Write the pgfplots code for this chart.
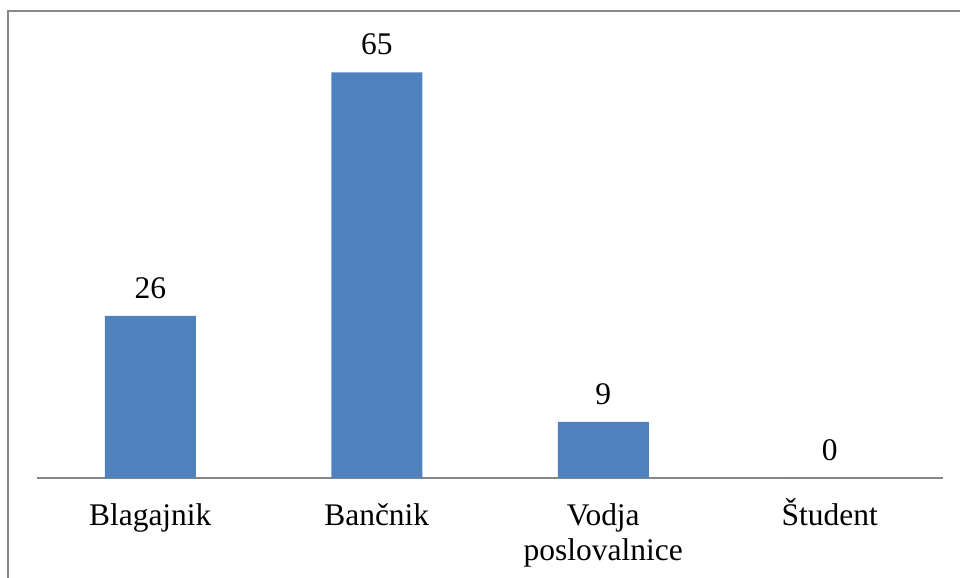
\documentclass[border=0pt]{standalone}
\usepackage{pgfplots}
\pgfplotsset{compat=1.18}
\usepackage{fontspec}
\setmainfont{Liberation Serif}
\definecolor{barblue}{RGB}{79,129,189}
\definecolor{axgray}{RGB}{134,134,134}
\definecolor{framegray}{RGB}{136,136,136}
\newcommand{\capS}{\vphantom{\v{S}}}
\begin{document}
\begin{tikzpicture}[x=0.75pt,y=0.75pt]
% page area and outer frame (left and top edges)
\useasboundingbox (-37,-100) rectangle (923,478);
\draw[framegray,line width=1.5pt] (-29,-100) -- (-29,467) -- (923,467);
\begin{axis}[
  at={(0,0)}, anchor=south west,
  scale only axis,
  width=679.5pt, height=327.6pt,
  xmin=-0.5, xmax=3.5, ymin=0, ymax=70,
  axis x line=bottom, axis y line=none,
  x axis line style={axgray, line width=0.9pt, -},
  xtick={0,1,2,3},
  xticklabels={\capS Blagajnik, \capS Ban\v{c}nik, {\capS Vodja\\poslovalnice}, \capS\v{S}tudent},
  major tick length=0pt,
  xticklabel style={font=\fontsize{23.6}{26}\selectfont, align=center, yshift=-12pt},
  ytick=\empty,
  ybar, bar width=68.25pt,
  nodes near coords,
  every node near coord/.append style={font=\fontsize{23.6}{26}\selectfont, yshift=9.5pt, text=black,
    /pgf/number format/assume math mode=true},
  clip=false,
]
\addplot[fill=barblue, draw=none] coordinates {(0,26) (1,65) (2,9) (3,0)};
\end{axis}
\end{tikzpicture}
\end{document}
